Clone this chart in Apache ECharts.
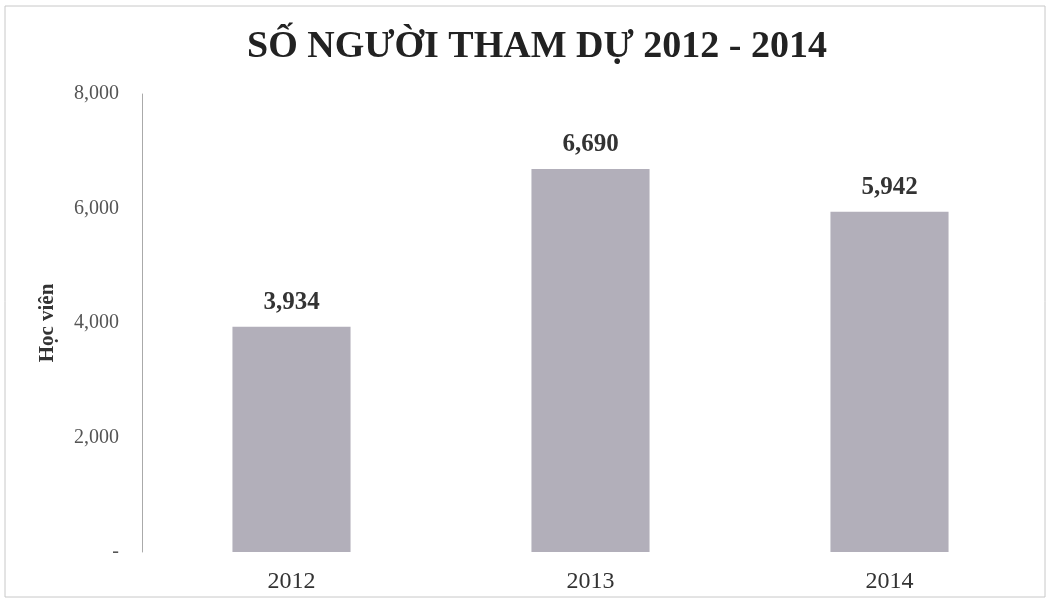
<!DOCTYPE html>
<html><head><meta charset="utf-8">
<script src="https://cdn.jsdelivr.net/npm/echarts@6/dist/echarts.min.js"></script>
<style>html,body{margin:0;padding:0;background:#fff}#c{width:1050px;height:601px}</style>
</head><body><div id="c"></div>
<script>
const categories = ['2012', '2013', '2014'];
const values = [3934, 6690, 5942];
const yTicks = [0, 2000, 4000, 6000, 8000];
const titleText = 'SỐ NGƯỜI THAM DỰ 2012 - 2014';
const yName = 'Học viên';

const chart = echarts.init(document.getElementById('c'));
const serif = '"Liberation Serif", "DejaVu Serif", serif';
chart.setOption({
  backgroundColor: '#fff',
  animation: false,
  graphic: [{
    type: 'rect', shape: {x: 5, y: 6, width: 1040, height: 591},
    style: {fill: 'none', stroke: '#c8c8c8', lineWidth: 1}, silent: true
  }],
  title: {
    text: titleText, left: 532, top: 23, textAlign: 'center',
    textStyle: {fontFamily: serif, fontSize: 38, fontWeight: 'bold', color: '#222'}
  },
  grid: {left: 142, right: 11, top: 94, bottom: 49, containLabel: false},
  xAxis: {
    type: 'category', data: categories,
    axisLine: {show: false}, axisTick: {show: false},
    axisLabel: {fontFamily: serif, fontSize: 24, color: '#333', margin: 18}
  },
  yAxis: {
    type: 'value', min: yTicks[0], max: yTicks[yTicks.length - 1], interval: 2000,
    name: yName, nameLocation: 'middle', nameGap: 84, nameRotate: 90,
    nameTextStyle: {fontFamily: serif, fontSize: 21, color: '#333', fontWeight: 'bold'},
    axisLine: {show: true, lineStyle: {color: '#aaa', width: 1}},
    axisTick: {show: false},
    splitLine: {show: false},
    axisLabel: {
      fontFamily: serif, fontSize: 20, color: '#555', margin: 23,
      formatter: v => v === 0 ? '-' : v.toLocaleString('en-US')
    }
  },
  series: [{
    type: 'bar', data: values, barWidth: '39.5%',
    itemStyle: {color: '#b2afba'},
    label: {
      show: true, position: 'top', distance: 12,
      fontFamily: serif, fontSize: 25, fontWeight: 'bold', color: '#333',
      formatter: p => p.value.toLocaleString('en-US')
    }
  }]
});
</script></body></html>
